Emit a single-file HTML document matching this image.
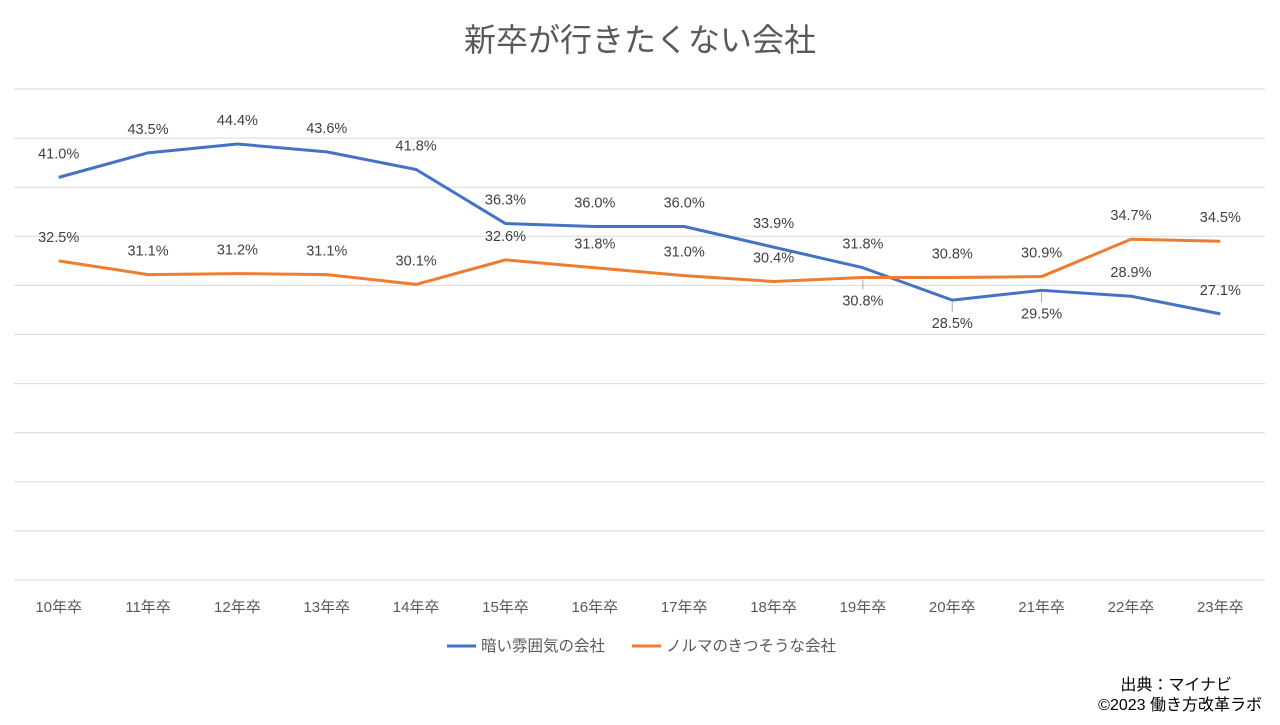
<!DOCTYPE html>
<html><head><meta charset="utf-8"><style>
body{margin:0;background:#fff;font-family:"Liberation Sans","Noto Sans CJK JP",sans-serif;}
svg text{font-family:"Liberation Sans","Noto Sans CJK JP",sans-serif;}
</style></head><body>
<svg id="c" width="1280" height="720" xmlns="http://www.w3.org/2000/svg">
<text x="640" y="51" text-anchor="middle" font-size="32" fill="#595959">新卒が行きたくない会社</text>
<g id="grid"></g><g id="xl"></g><g id="lines"></g><g id="labels"></g>
<g>
<line x1="447" y1="646" x2="476" y2="646" stroke="#4472C4" stroke-width="3"/>
<text x="481" y="651" font-size="15.5" fill="#595959">暗い雰囲気の会社</text>
<line x1="632" y1="646" x2="661" y2="646" stroke="#ED7D31" stroke-width="3"/>
<text x="666" y="651" font-size="15.5" fill="#595959">ノルマのきつそうな会社</text>
</g>
<text x="1232" y="690" text-anchor="end" font-size="16" fill="#000">出典：マイナビ</text>
<text x="1262" y="710" text-anchor="end" font-size="16" fill="#000">©2023 働き方改革ラボ</text>
</svg>
<script>
const categories=["10年卒","11年卒","12年卒","13年卒","14年卒","15年卒","16年卒","17年卒","18年卒","19年卒","20年卒","21年卒","22年卒","23年卒"];
const darkValues=[41.0,43.5,44.4,43.6,41.8,36.3,36.0,36.0,33.9,31.8,28.5,29.5,28.9,27.1];
const quotaValues=[32.5,31.1,31.2,31.1,30.1,32.6,31.8,31.0,30.4,30.8,30.8,30.9,34.7,34.5];
const yTicks=[0,5,10,15,20,25,30,35,40,45,50];
const darkBelow=[0,0,0,0,0,0,0,0,0,0,1,1,0,0];
const quotaBelow=[0,0,0,0,0,0,0,0,0,1,0,0,0,0];
const NS="http://www.w3.org/2000/svg";
const L=14,R=1265,T=89,B=580;
const x=i=>L+(R-L)/categories.length*(i+0.5);
const y=v=>B-(v/50)*(B-T);
function mk(tag,a,p){const e=document.createElementNS(NS,tag);for(const k in a)e.setAttribute(k,a[k]);document.getElementById(p).appendChild(e);return e;}
yTicks.forEach(t=>{const e=mk("line",{x1:L,x2:R,y1:y(t),y2:y(t),stroke:"#d9d9d9","stroke-width":1},"grid");

});
categories.forEach((c,i)=>{const e=mk("text",{x:x(i),y:612,"text-anchor":"middle","font-size":15,fill:"#595959"},"xl");e.textContent=c;

});
function series(vals,col,below,name){
const p=mk("polyline",{points:vals.map((v,i)=>x(i)+","+y(v)).join(" "),fill:"none",stroke:col,"stroke-width":3,"stroke-linejoin":"round"},"lines");


vals.forEach((v,i)=>{const ly=below[i]?y(v)+28:y(v)-19;
if(below[i]){const ln=mk("line",{x1:x(i),x2:x(i),y1:y(v)+2,y2:y(v)+12,stroke:"#a6a6a6"},"labels");

}
const t=mk("text",{x:x(i),y:ly,"text-anchor":"middle","font-size":14.5,fill:"#404040"},"labels");t.textContent=v.toFixed(1)+"%";

});}
series(darkValues,"#4472C4",darkBelow,"dark");
series(quotaValues,"#ED7D31",quotaBelow,"quota");
</script>
</body></html>
